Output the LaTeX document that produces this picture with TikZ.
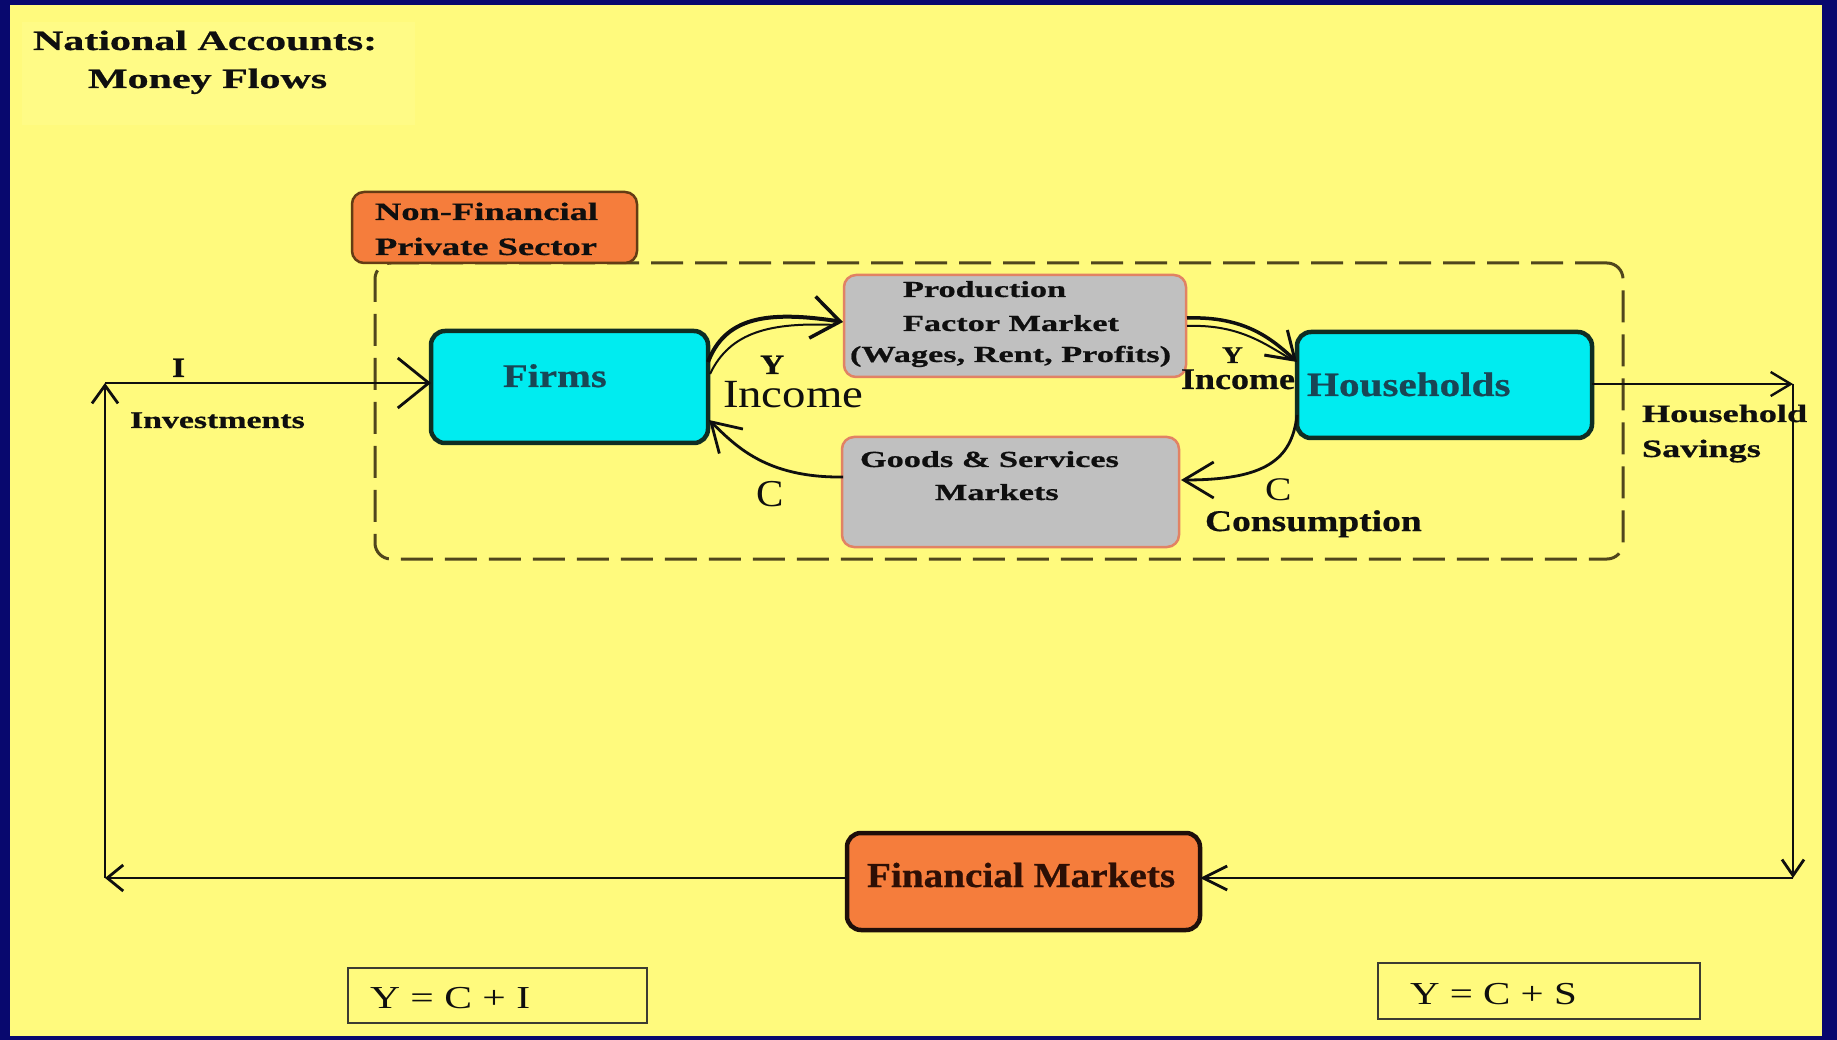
\documentclass[tikz,border=0pt]{standalone}
\usepackage{fontspec}
\setmainfont{Liberation Serif}[BoldFeatures={FakeBold=0.6}]
\usepackage{graphicx}
\usetikzlibrary{arrows.meta,calc}

\definecolor{navy}{RGB}{8,8,110}
\definecolor{bgyellow}{RGB}{255,250,125}
\definecolor{paleyellow}{RGB}{255,251,134}
\definecolor{cyanfill}{RGB}{0,236,240}
\definecolor{orangefill}{RGB}{245,125,60}
\definecolor{grayfill}{RGB}{192,192,192}
\definecolor{salmon}{RGB}{225,130,100}
\definecolor{tealtext}{RGB}{25,70,85}
\definecolor{dashcol}{RGB}{80,70,28}
\definecolor{ink}{RGB}{15,15,15}
\definecolor{agentborder}{RGB}{15,45,35}
\definecolor{nfborder}{RGB}{100,60,20}
\definecolor{finborder}{RGB}{30,15,10}
\definecolor{fintext}{RGB}{45,15,5}
\definecolor{eqborder}{RGB}{60,60,50}

\newcommand\bt[3]{{\fontsize{#1}{#1}\selectfont\bfseries\scalebox{#2}[1]{#3}}}
\newcommand\rt[3]{{\fontsize{#1}{#1}\selectfont\scalebox{#2}[1]{#3}}}

\begin{document}
\begin{tikzpicture}[x=1pt,y=-1pt,
  lbl/.style={inner sep=0pt, outer sep=0pt, anchor=base west, text=ink},
  boxbase/.style={rectangle, inner sep=0pt, outer sep=0pt},
  agent/.style={boxbase, rounded corners=14pt, fill=cyanfill, draw=agentborder, line width=4.5pt},
  market/.style={boxbase, rounded corners=12pt, fill=grayfill, draw=salmon, line width=2.5pt},
  nfbox/.style={boxbase, rounded corners=12pt, fill=orangefill, draw=nfborder, line width=2.5pt},
  finbox/.style={boxbase, rounded corners=14pt, fill=orangefill, draw=finborder, line width=4.5pt},
  eqbox/.style={boxbase, draw=eqborder, line width=2pt},
  sectorbox/.style={boxbase, draw=dashcol, line width=3pt, dash pattern=on 32pt off 12pt, rounded corners=16pt},
  flow/.style={draw=ink, line width=2.8pt},
  curvy/.style={draw=ink, line width=3pt}
]
% background
\fill[navy] (0,0) rectangle (1837,1040);
\fill[bgyellow] (10,5) rectangle (1822,1036);
\fill[paleyellow] (22,22) rectangle (415,125);
\useasboundingbox (0,0) rectangle (1837,1040);

% title
\node[lbl] (title1) at (33,50) {\bt{28}{1.5}{National Accounts:}};
\node[lbl] (title2) at (88,88) {\bt{28}{1.5}{Money Flows}};

% sector frame
\node[sectorbox, minimum width=1248pt, minimum height=296pt] (sector) at (999,411) {};
\node[nfbox, minimum width=285pt, minimum height=71pt] (nfps) at (494.5,227.5) {};
\node[lbl] (nfps1) at (375,220) {\bt{25}{1.46}{Non-Financial}};
\node[lbl] (nfps2) at (375,255) {\bt{25}{1.46}{Private Sector}};

% agents
\node[agent, minimum width=277pt, minimum height=112pt] (firms) at (569.5,387) {};
\node[lbl, text=tealtext] (firmslbl) at (503,387) {\bt{33}{1.23}{Firms}};
\node[agent, minimum width=295pt, minimum height=106pt] (hh) at (1444.5,385) {};
\node[lbl, text=tealtext] (hhlbl) at (1307,396) {\bt{34}{1.21}{Households}};

% markets
\node[market, minimum width=342pt, minimum height=102pt] (prod) at (1015,326) {};
\node[lbl] (prod1) at (903,297) {\bt{23}{1.49}{Production}};
\node[lbl] (prod2) at (903,331) {\bt{23}{1.49}{Factor Market}};
\node[lbl] (prod3) at (850,362) {\bt{23}{1.49}{(Wages, Rent, Profits)}};
\node[market, minimum width=337pt, minimum height=110pt] (goods) at (1010.5,492) {};
\node[lbl] (goods1) at (860,467) {\bt{23}{1.49}{Goods \& Services}};
\node[lbl] (goods2) at (935,500) {\bt{23}{1.49}{Markets}};

% financial markets
\node[finbox, minimum width=353pt, minimum height=97pt] (fin) at (1023.5,881.5) {};
\node[lbl, text=fintext] (finlbl) at (867,887) {\bt{35}{1.12}{Financial Markets}};

% equation boxes
\node[eqbox, minimum width=299pt, minimum height=55pt] (eq1) at (497.5,995.5) {};
\node[lbl] (eq1lbl) at (370,1008) {\rt{32}{1.3}{Y = C + I}};
\node[eqbox, minimum width=322pt, minimum height=56pt] (eq2) at (1539,991) {};
\node[lbl] (eq2lbl) at (1410,1004) {\rt{32}{1.28}{Y = C + S}};

% outer loop
\coordinate (bl) at (105,878);
\coordinate (tl) at (105,383);
\coordinate (tr) at (1793,384);
\coordinate (br) at (1793,878);
\draw[flow, -{Straight Barb[length=16pt,width=26pt]}] (bl -| fin.west) -- (bl);
\draw[flow, -{Straight Barb[length=18pt,width=26pt]}] (bl) -- (tl);
\draw[flow, -{Straight Barb[length=31pt,width=50pt]}] (tl) -- (tl -| firms.west);
\draw[flow, line width=2.4pt, -{Straight Barb[length=20pt,width=24pt]}] (tr -| hh.east) -- (tr);
\draw[flow, -{Straight Barb[length=16pt,width=22pt]}] (tr) -- (br);
\draw[flow, -{Straight Barb[length=24pt,width=24pt]}] (br) -- (br -| fin.east);

% inner circular flow
\draw[curvy, line width=4pt, -{Straight Barb[length=28pt,width=42pt,line width=3.5pt]}]
  ($(firms.east)+(0,-25)$) .. controls (725,318) and (765,310) .. ($(prod.west)+(-1,-4)$);
\draw[curvy, line width=2pt] ($(firms.east)+(2,-13)$) .. controls (730,332) and (770,322) .. ($(prod.west)+(-8,-1)$);
\draw[curvy, line width=3.5pt, -{Straight Barb[length=26pt,width=34pt,line width=3pt]}]
  ($(prod.east)+(1,-8)$) .. controls (1245,316) and (1272,339) .. ($(hh.west)+(0,-23)$);
\draw[curvy, line width=2pt] ($(prod.east)+(1,0)$) .. controls (1240,324) and (1266,345) .. ($(hh.west)+(-6,-26)$);
\draw[curvy, line width=2.8pt, -{Straight Barb[length=30pt,width=36pt]}]
  ($(hh.west)+(0,30)$) .. controls (1292,460) and (1265,480) .. ($(goods.east)+(2,-12)$);
\draw[curvy, line width=2.8pt, -{Straight Barb[length=28pt,width=34pt]}]
  ($(goods.west)+(1,-15)$) .. controls (765,478) and (735,445) .. ($(firms.east)+(1,33)$);

% flow labels
\node[lbl] (ilbl) at (172,377) {\bt{28}{1.2}{I}};
\node[lbl] (invlbl) at (130,428) {\bt{24}{1.41}{Investments}};
\node[lbl] (yleft) at (760,374) {\bt{28}{1.2}{Y}};
\node[lbl] (incleft) at (723,408) {\rt{40}{1.17}{Income}};
\node[lbl] (cleft) at (756,506) {\rt{38}{1.08}{C}};
\node[lbl] (yright) at (1222,363) {\bt{24}{1.2}{Y}};
\node[lbl] (incright) at (1181,389) {\bt{30}{1.2}{Income}};
\node[lbl] (cright) at (1265,500) {\rt{33}{1.2}{C}};
\node[lbl] (conslbl) at (1205,531) {\bt{30}{1.25}{Consumption}};
\node[lbl] (hs1) at (1642,422) {\bt{25}{1.45}{Household}};
\node[lbl] (hs2) at (1642,457) {\bt{25}{1.45}{Savings}};
\end{tikzpicture}
\end{document}
